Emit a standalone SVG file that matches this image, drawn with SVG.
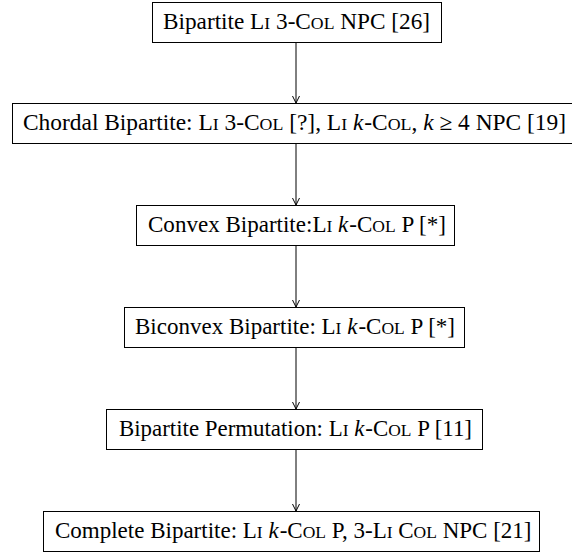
<svg xmlns="http://www.w3.org/2000/svg" width="572" height="556" viewBox="0 0 572 556">
<style>
.box{fill:#fff;stroke:#000;stroke-width:1}
.t{font-family:"Liberation Serif","Times New Roman",serif;font-size:23px;fill:#000;text-anchor:start}
.sc{font-size:17.5px}
.it{font-style:italic}
.edge{stroke:#000;stroke-width:1;fill:none}
</style>
<defs>
<marker id="arr" viewBox="0 0 10 10" refX="10" refY="5" markerWidth="10" markerHeight="10" markerUnits="userSpaceOnUse" orient="auto">
<path d="M3,1.5 L10,5 L3,8.5" fill="none" stroke="#000" stroke-width="1"/>
</marker>
</defs>
<rect width="572" height="556" fill="#fff"/>
<g id="connectors">
<line class="edge" x1="296" y1="42" x2="296" y2="103" marker-end="url(#arr)"/>
<line class="edge" x1="296" y1="144" x2="296" y2="205" marker-end="url(#arr)"/>
<line class="edge" x1="296" y1="246" x2="296" y2="307" marker-end="url(#arr)"/>
<line class="edge" x1="296" y1="348" x2="296" y2="409" marker-end="url(#arr)"/>
<line class="edge" x1="296" y1="450" x2="296" y2="511" marker-end="url(#arr)"/>
</g>
<g id="n1">
<rect class="box" x="152.5" y="2.5" width="289" height="40"/>
<text class="t" x="163" y="29" textLength="267" lengthAdjust="spacingAndGlyphs">Bipartite L<tspan class="sc">I</tspan> 3-C<tspan class="sc">OL</tspan> NPC [26]</text>
</g>
<g id="n2">
<rect class="box" x="12.5" y="103.5" width="566" height="40"/>
<text class="t" x="23" y="130" textLength="543" lengthAdjust="spacingAndGlyphs">Chordal Bipartite: L<tspan class="sc">I</tspan> 3-C<tspan class="sc">OL</tspan> [?], L<tspan class="sc">I</tspan> <tspan class="it">k</tspan><tspan dx="1">-C</tspan><tspan class="sc">OL</tspan>, <tspan class="it">k</tspan> ≥ 4 NPC [19]</text>
</g>
<g id="n3">
<rect class="box" x="136.5" y="205.5" width="318" height="40"/>
<text class="t" x="148" y="232" textLength="298" lengthAdjust="spacingAndGlyphs">Convex Bipartite:L<tspan class="sc">I</tspan> <tspan class="it">k</tspan><tspan dx="1">-C</tspan><tspan class="sc">OL</tspan> P [*]</text>
</g>
<g id="n4">
<rect class="box" x="124.5" y="307.5" width="340" height="40"/>
<text class="t" x="135" y="334">Biconvex Bipartite: L<tspan class="sc">I</tspan> <tspan class="it">k</tspan><tspan dx="1">-C</tspan><tspan class="sc">OL</tspan> P [*]</text>
</g>
<g id="n5">
<rect class="box" x="106.5" y="409.5" width="376" height="40"/>
<text class="t" x="119" y="436" textLength="353" lengthAdjust="spacingAndGlyphs">Bipartite Permutation: L<tspan class="sc">I</tspan> <tspan class="it">k</tspan><tspan dx="1">-C</tspan><tspan class="sc">OL</tspan> P [11]</text>
</g>
<g id="n6">
<rect class="box" x="43.5" y="511.5" width="496" height="40"/>
<text class="t" x="55" y="538">Complete Bipartite: L<tspan class="sc">I</tspan> <tspan class="it">k</tspan><tspan dx="1">-C</tspan><tspan class="sc">OL</tspan> P, 3-L<tspan class="sc">I</tspan> C<tspan class="sc">OL</tspan> NPC [21]</text>
</g>
</svg>
